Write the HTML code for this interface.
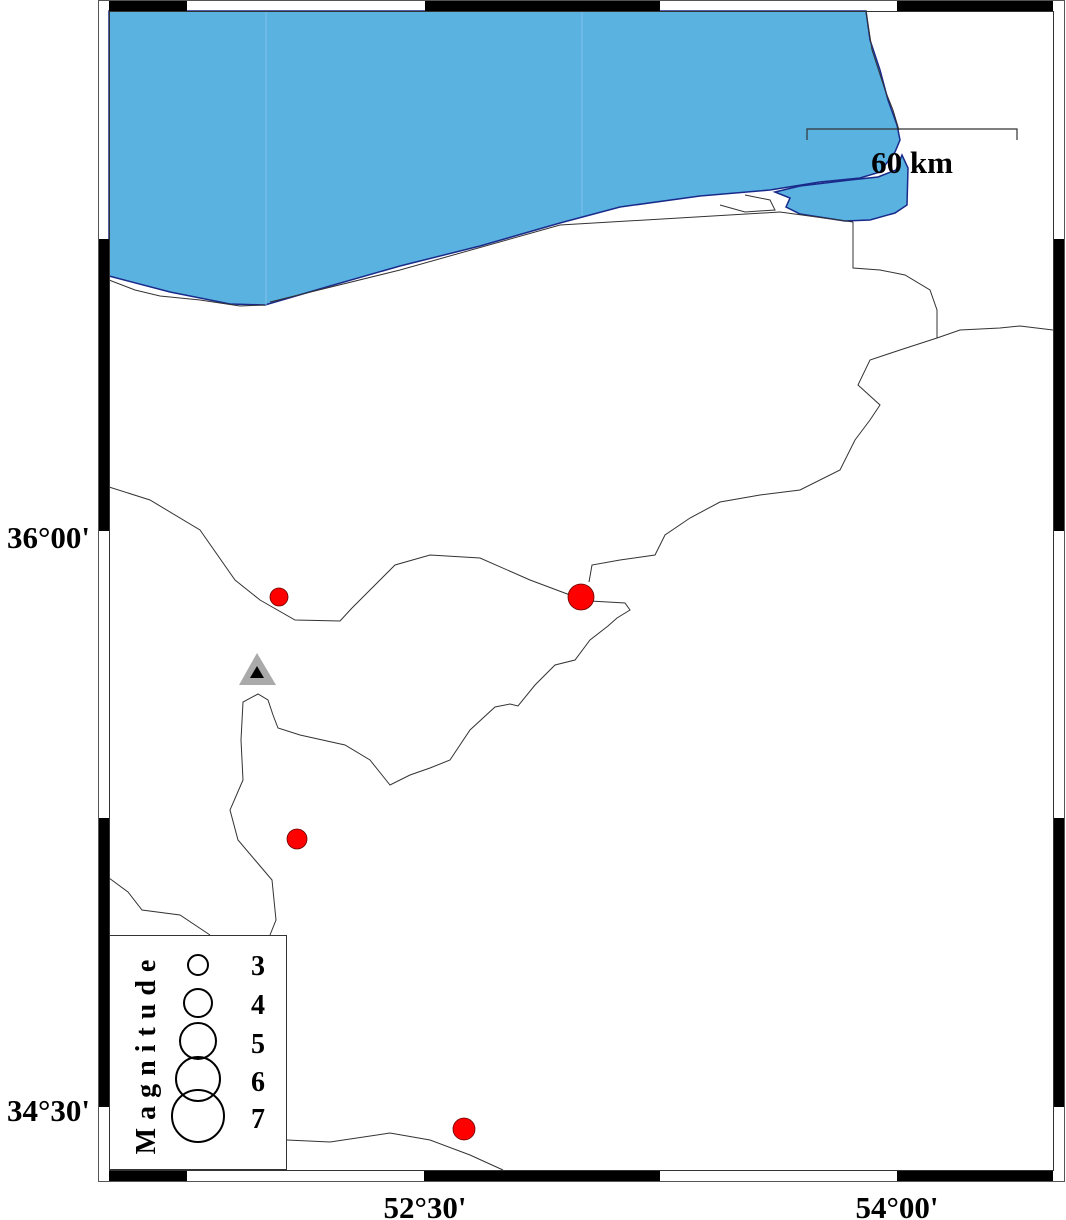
<!DOCTYPE html>
<html><head><meta charset="utf-8"><style>
html,body{margin:0;padding:0;background:#fff;width:1066px;height:1220px;overflow:hidden}
svg text{font-family:"Liberation Serif",serif;font-weight:bold;fill:#000}
</style></head><body>
<svg width="1066" height="1220" viewBox="0 0 1066 1220" xmlns="http://www.w3.org/2000/svg">
<path d="M109,11 L866,11 L870,40 L880,70 L888,100 L897,125 L900,140 L895,152 L880,172 L860,178 L820,182 L770,190 L700,196 L620,207 L560,223 L480,246 L400,266 L330,286 L265,305 L230,304 L170,292 L109,276 Z" fill="#5ab2e0" stroke="#1a2a8a" stroke-width="1.5"/>
<path d="M775,192 L800,186 L850,180 L878,177 L896,170 L902,155 L908,168 L907,205 L895,213 L870,220 L845,221 L800,214 L786,207 L790,198 Z" fill="#5ab2e0" stroke="#1a2a8a" stroke-width="1.5"/>
<line x1="266" y1="11" x2="266" y2="305" stroke="#7ec3ea" stroke-width="1"/>
<line x1="582" y1="11" x2="582" y2="215" stroke="#7ec3ea" stroke-width="1"/>
<g fill="none" stroke="#333" stroke-width="1">
<path d="M109,280 L135,290 L160,296 L200,300 L240,306 L265,305"/>
<path d="M270,302 L400,270 L560,225 L780,212 L853,222"/>
<path d="M866,11 L872,50 L885,90 L893,110 L899,130"/>
<path d="M853,222 L853,268 L880,270 L905,275 L930,290 L937,310 L937,338"/>
<path d="M937,338 L960,330 L1000,328 L1020,326 L1053,330"/>
<path d="M937,338 L900,350 L870,360 L858,385 L880,405 L870,420 L855,440 L840,470 L800,490 L760,495 L720,502 L690,518 L665,535 L655,555 L620,560 L592,565 L589,582"/>
<path d="M109,487 L150,500 L200,530 L235,580 L260,600 L295,620 L340,621 L352,608 L370,590 L395,565 L430,555 L480,558 L530,580 L570,595"/>
<path d="M590,601 L625,603 L630,610 L617,618 L608,626 L590,640 L575,660 L555,665 L535,685 L518,706 L510,704 L495,707 L470,730 L450,760 L430,768 L410,775 L390,785 L370,760 L345,745 L300,735 L278,728 L273,715 L268,700 L258,694 L243,702 L241,740 L243,780 L230,810 L238,840 L255,860 L272,880 L276,920 L270,935"/>
<path d="M109,878 L128,892 L142,910 L180,915 L210,935"/>
<path d="M287,1140 L330,1142 L390,1133 L430,1140 L470,1155 L503,1170"/>
<path d="M745,195 L770,200 L775,210 L745,212 L720,205"/>
</g>
<rect x="98.5" y="0.5" width="966" height="1181" fill="none" stroke="#555" stroke-width="1"/>
<rect x="109.5" y="11.5" width="944" height="1159" fill="none" stroke="#333" stroke-width="1"/>
<g fill="#000">
<rect x="109" y="1" width="78" height="10"/><rect x="425" y="1" width="235" height="10"/><rect x="897" y="1" width="156" height="10"/>
<rect x="109" y="1171" width="78" height="10"/><rect x="424" y="1171" width="236" height="10"/><rect x="897" y="1171" width="156" height="10"/>
<rect x="99" y="239" width="10" height="292"/><rect x="99" y="818" width="10" height="289"/>
<rect x="1054" y="239" width="10" height="292"/><rect x="1054" y="818" width="10" height="289"/>
</g>
<path d="M807,140 L807,129 L1017,129 L1017,140" fill="none" stroke="#333" stroke-width="1.2"/>
<text x="912" y="173" font-size="31" text-anchor="middle">60 km</text>
<g fill="#ff0000" stroke="#600" stroke-width="0.8">
<circle cx="279" cy="597" r="9"/>
<circle cx="575" cy="597" r="6"/>
<circle cx="581" cy="597" r="13"/>
<circle cx="297" cy="839" r="10"/>
<circle cx="464" cy="1129" r="11"/>
</g>
<polygon points="257,653 239,685 276,685" fill="#aaa"/>
<polygon points="257,666 250,678 264,678" fill="#000"/>
<rect x="109.5" y="935.5" width="177" height="234" fill="#fff" stroke="#333" stroke-width="1"/>
<g fill="none" stroke="#000" stroke-width="2">
<circle cx="198" cy="965" r="10"/><circle cx="198" cy="1003" r="14"/><circle cx="198" cy="1041" r="18"/><circle cx="198" cy="1079" r="22"/><circle cx="198" cy="1116" r="26"/>
</g>
<g font-size="28" text-anchor="middle">
<text x="258" y="975">3</text><text x="258" y="1014">4</text><text x="258" y="1053">5</text><text x="258" y="1091">6</text><text x="258" y="1128">7</text>
</g>
<text transform="translate(155,1053) rotate(-90)" font-size="28" text-anchor="middle" letter-spacing="8">Magnitude</text>
<g font-size="31">
<text x="90" y="548" text-anchor="end">36°00'</text>
<text x="90" y="1121" text-anchor="end">34°30'</text>
<text x="425" y="1218" text-anchor="middle">52°30'</text>
<text x="897" y="1218" text-anchor="middle">54°00'</text>
</g>
</svg>
</body></html>
